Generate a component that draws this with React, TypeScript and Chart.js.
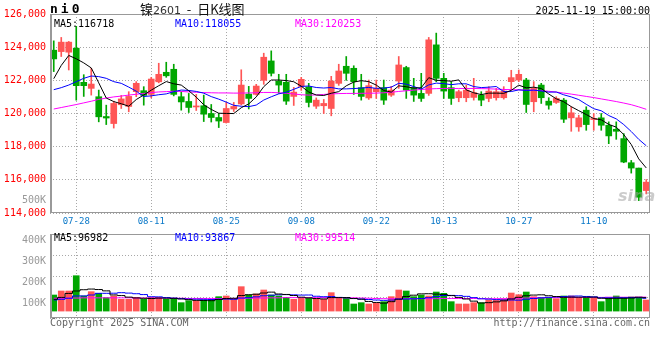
import { useEffect, useRef } from 'react';
import { Chart, registerables } from 'chart.js';
Chart.register(...registerables);

// ---------- data ----------
const dates = [
  '07-23','07-24','07-25','07-28','07-29','07-30','07-31',
  '08-01','08-04','08-05','08-06','08-07','08-08','08-11','08-12','08-13','08-14','08-15','08-18','08-19','08-20','08-21','08-22','08-25','08-26','08-27','08-28','08-29',
  '09-01','09-02','09-03','09-04','09-05','09-08','09-09','09-10','09-11','09-12','09-15','09-16','09-17','09-18','09-19','09-22','09-23','09-24','09-25','09-26','09-29','09-30',
  '10-09','10-10','10-13','10-14','10-15','10-16','10-17','10-20','10-21','10-22','10-23','10-24','10-27','10-28','10-29','10-30','10-31',
  '11-03','11-04','11-05','11-06','11-07','11-10','11-11','11-12','11-13','11-14','11-17','11-18','11-19'
];
const dateTicks = ['07-28','08-11','08-25','09-08','09-22','10-13','10-27','11-10'];

const opens = [123818,123733,123697,123939,121879,121515,121012,119818,119394,120527,
  120424,121315,121376,121152,121909,122485,122667,121012,120727,120394,
  120467,120000,119758,119455,120273,120576,121170,121152,121999,123170,
  121958,121879,121030,121636,121606,120442,120467,120303,121818,122848,
  122727,121558,120939,121315,121558,121109,121958,122770,121558,121212,
  121212,124139,122121,121558,120951,120951,120970,121109,120909,120951,
  120951,121921,122018,122018,120709,121715,120745,120667,120806,119739,
  119194,120200,119636,119739,119291,119049,118485,117031,116709,115352];
const highs = [124381,124587,124345,125254,122340,122727,121412,120503,120745,121091,
  121315,121921,121618,122182,123030,123091,122970,121315,121212,121152,
  121109,120545,120000,120667,120667,122636,121636,121758,123636,123776,
  122364,122364,121576,122182,121818,120939,120848,122242,122970,123436,
  122879,122364,122018,122018,122018,121636,123436,122848,122121,122424,
  124587,124848,122424,121921,121412,121715,122121,121315,121618,121515,
  121618,122606,122624,122121,121921,121818,120951,121012,120909,120406,
  119897,120406,120000,120000,119497,119497,118788,117170,116709,116018];
const lows = [122527,123436,122624,120806,121030,121109,119497,119333,119121,120303,
  120103,121012,120503,120939,121848,122182,121061,120200,120061,120182,
  119515,119485,119152,119424,120121,120515,120273,121109,121758,122261,
  121212,120545,120485,121394,120394,120303,120000,119861,121697,122000,
  121152,120806,120848,120909,120545,121030,121515,120909,120727,120727,
  121091,121921,120909,120545,120709,120709,120806,120467,120709,120806,
  120867,121412,121921,120061,120103,120606,120261,120606,119455,118927,
  118927,118988,118988,118988,118182,118443,117031,116406,114746,115152];
const closes = [123291,124303,124303,121679,121679,121776,119800,119727,120606,120879,
  121030,121818,121091,122079,122363,122273,121152,120697,120364,120455,
  119958,119758,119546,120303,120424,121715,120909,121655,123394,122424,
  121715,120745,121291,122061,120667,120806,120606,121958,122563,122424,
  121921,121030,121679,121515,120806,121412,122927,121412,121109,120909,
  124442,122121,121352,120909,121315,121412,121255,120806,121352,121315,
  121352,122164,122363,120545,121515,120951,120503,120909,119655,120042,
  119739,119333,119697,119291,118649,118927,117073,116709,114952,115861];

const ma5 = [122100,122900,123500,123300,123051,122748,121847,120932,120718,120588,
  120439,120842,121115,121410,121676,121925,121792,121713,121370,120988,
  120525,120246,120016,120004,119998,120349,120579,121001,121619,122019,
  122019,121987,121914,121647,121296,121114,121086,121220,121320,121671,
  121894,121979,121923,121714,121390,121288,121668,121614,121533,121554,
  122160,121999,121987,121947,122028,121422,121249,121139,121228,121228,
  121216,121398,121709,121548,121588,121508,121175,120885,120707,120412,
  120170,119936,119693,119620,119342,119179,118727,118130,117262,116718];
const ma10 = [121436,121558,121715,121921,122121,122260,122224,122121,121921,121819,
  121593,121345,121024,121064,121132,121182,121317,121414,121390,121332,
  121225,121019,120865,120687,120493,120437,120413,120509,120812,121009,
  121184,121283,121458,121633,121658,121567,121536,121567,121484,121484,
  121504,121533,121572,121517,121531,121591,121824,121769,121624,121472,
  121724,121833,121801,121740,121791,121791,121624,121563,121587,121628,
  121319,121323,121424,121388,121408,121362,121287,121297,121127,121000,
  120839,120556,120289,120164,119877,119675,119332,118912,118441,118055];
const ma30 = [120270,120360,120450,120540,120640,120740,120850,120930,121000,121050,
  121110,121160,121210,121260,121300,121320,121340,121330,121300,121280,
  121260,121250,121240,121240,121230,121230,121240,121250,121270,121270,
  121250,121220,121180,121130,121110,121120,121150,121180,121200,121210,
  121210,121220,121220,121230,121250,121280,121330,121370,121410,121450,
  121480,121500,121510,121510,121510,121510,121510,121500,121490,121470,
  121450,121440,121430,121415,121400,121380,121340,121290,121230,121170,
  121100,121030,120960,120880,120800,120720,120630,120530,120400,120253];

const volumes = [109500,128600,128600,201400,104800,125400,117500,96800,104800,88900,
  88900,98400,88900,98400,98400,88900,93700,73000,82500,82500,
  85700,88900,101600,104800,88900,149200,109500,114300,133300,109500,
  104800,98400,88900,93700,93700,88900,88900,120600,93700,93700,
  66700,73000,66700,70000,77800,101600,133300,128600,101600,109500,
  104800,123800,117500,77800,66700,66700,73000,73000,85700,85700,
  90500,119000,111000,123800,101600,96800,96800,92000,104800,104800,
  96800,96800,93700,77800,96800,104800,96800,100000,96800,85700];
const vma5 = [89000,98000,117000,128600,134600,137800,135500,129200,109900,106700,
  99400,95600,94000,92700,94600,94600,93700,90500,87300,84100,
  83500,82500,88200,92700,94000,106700,110800,113300,119000,123200,
  114300,112100,107000,99100,95900,92700,90800,97200,97200,97200,
  92700,89500,78800,74000,70800,77800,89900,102300,108600,114900,
  115600,113700,111400,106700,98100,90500,80300,71400,73000,76800,
  81600,90800,98400,106000,109200,110400,106000,102200,98400,99000,
  99000,99000,99400,94000,92400,94000,94000,95200,99000,96982];
const vma10 = [86000,89000,94000,105000,105000,109500,117500,117500,118000,120600,
  118600,115600,111600,101300,100600,97000,94600,92200,90000,89400,
  89000,88100,89400,90000,89100,95100,96700,100800,105900,108600,
  110500,111400,110200,109100,109500,103500,101400,102100,98100,96500,
  92700,90200,88000,85600,84000,85300,89700,90500,91300,92900,
  96700,101800,106900,107600,106500,103000,97000,91400,89900,87500,
  86000,85600,84900,89500,93000,96000,98400,100300,102200,104100,
  104700,102500,100800,96200,95700,96500,96500,97300,96500,93867];
const vma30 = [94000,94000,95000,95000,96000,96000,96000,96000,96000,96000,
  96000,95000,95000,95000,95000,95000,94000,94000,93000,93000,
  93000,93000,93000,93000,93000,94000,94000,95000,95000,96000,
  96000,97000,97000,97000,97000,97000,97000,97000,97000,96000,
  96000,95000,94000,93000,92000,92000,92000,92000,92000,92000,
  92000,92000,93000,93000,93000,93000,93000,92000,92000,92000,
  92000,93000,94000,95000,96000,96000,97000,97000,98000,98000,
  98000,98000,98000,98000,99000,99000,99000,99000,99500,99514];

// ---------- style ----------
const UP = '#ff5555';
const DOWN = '#00a600';
const MONO = '"DejaVu Sans Mono", "Liberation Mono", monospace';
const GRID = '#a8a8a8';
const candleColors = closes.map((c, i) => (c >= opens[i] ? UP : DOWN));

const framePlugin = {
  id: 'frame',
  afterDraw(chart: any) {
    const { ctx, chartArea } = chart;
    const { left, top, right, bottom } = chartArea;
    ctx.save();
    ctx.strokeStyle = '#999';
    ctx.lineWidth = 1;
    ctx.strokeRect(left + 0.5, top + 0.5, right - left - 1, bottom - top - 1);
    ctx.lineWidth = 2;
    ctx.beginPath();
    ctx.moveTo(left + 1, top);
    ctx.lineTo(left + 1, bottom);
    ctx.stroke();
    ctx.restore();
  },
};

const filterDateTicks = (scale: any) => {
  scale.ticks = scale.ticks.filter((t: any) => dateTicks.includes(dates[t.value]));
};

const lineDs = (data: number[], color: string, stepped: any = false) => ({
  type: 'line' as const,
  data,
  borderColor: color,
  borderWidth: 1,
  pointRadius: 0,
  fill: false,
  tension: 0,
  stepped,
  order: 0,
});

export default function App() {
  const priceRef = useRef<HTMLCanvasElement>(null);
  const volRef = useRef<HTMLCanvasElement>(null);

  useEffect(() => {
    const priceChart = new Chart(priceRef.current!, {
      type: 'bar',
      data: {
        labels: dates,
        datasets: [
          lineDs(ma5, '#000000'),
          lineDs(ma10, '#0000ff'),
          lineDs(ma30, '#ff00ff'),
          {
            type: 'bar',
            data: opens.map((o, i) => [o, closes[i]]),
            backgroundColor: candleColors,
            barThickness: 6,
            minBarLength: 1,
            grouped: false,
            order: 1,
          } as any,
          {
            type: 'bar',
            data: lows.map((l, i) => [l, highs[i]]),
            backgroundColor: candleColors,
            barThickness: 1,
            grouped: false,
            order: 2,
          } as any,
        ],
      },
      options: {
        animation: false,
        responsive: false,
        devicePixelRatio: 1,
        layout: { padding: { top: 14, right: 10, left: 0, bottom: 0 } },
        plugins: { legend: { display: false }, tooltip: { enabled: false } },
        scales: {
          x: {
            type: 'category',
            offset: true,
            grid: { offset: false, color: GRID, drawTicks: false, lineWidth: 1 },
            border: { display: false, dash: [1, 2] },
            ticks: {
              autoSkip: false,
              maxRotation: 0,
              color: '#0a78c8',
              font: { family: MONO, size: 9 },
              padding: 3,
            },
            afterBuildTicks: filterDateTicks,
            afterFit: (s: any) => { s.height = 17; s.paddingLeft = 0; s.paddingRight = 0; },
          },
          y: {
            min: 114000,
            max: 126000,
            ticks: {
              stepSize: 2000,
              color: '#ff0000',
              font: { family: MONO, size: 10 },
              padding: 4,
            },
            grid: { color: GRID, drawTicks: false },
            border: { display: false, dash: [1, 2] },
            afterFit: (s: any) => { s.width = 50; s.paddingTop = 0; s.paddingBottom = 0; },
          },
        },
      } as any,
      plugins: [framePlugin],
    });

    const volChart = new Chart(volRef.current!, {
      type: 'bar',
      data: {
        labels: dates,
        datasets: [
          lineDs(vma5, '#000000', 'middle'),
          lineDs(vma10, '#0000ff', 'middle'),
          lineDs(vma30, '#ff00ff', 'middle'),
          {
            type: 'bar',
            data: volumes,
            backgroundColor: candleColors,
            barThickness: 6,
            base: 33000,
            grouped: false,
            order: 1,
          } as any,
        ],
      },
      options: {
        animation: false,
        responsive: false,
        devicePixelRatio: 1,
        layout: { padding: { top: 4, right: 10, left: 0, bottom: 0 } },
        plugins: { legend: { display: false }, tooltip: { enabled: false } },
        scales: {
          x: {
            type: 'category',
            offset: true,
            grid: { offset: false, color: GRID, drawTicks: false },
            border: { display: false, dash: [1, 2] },
            ticks: { display: false, autoSkip: false },
            afterBuildTicks: filterDateTicks,
            afterFit: (s: any) => { s.height = 42; s.paddingLeft = 0; s.paddingRight = 0; },
          },
          y: {
            min: 0,
            max: 400000,
            ticks: {
              stepSize: 100000,
              color: '#999999',
              font: { family: MONO, size: 10 },
              padding: 4,
              labelOffset: 6,
              callback: (v: any) => (v === 0 ? '' : v / 1000 + 'K'),
            },
            grid: { color: GRID, drawTicks: false },
            border: { display: false, dash: [1, 2] },
            afterFit: (s: any) => { s.width = 50; s.paddingTop = 0; s.paddingBottom = 0; },
          },
        },
      } as any,
      plugins: [framePlugin],
    });

    return () => {
      priceChart.destroy();
      volChart.destroy();
    };
  }, []);

  const abs = (extra: any) => ({ position: 'absolute' as const, whiteSpace: 'pre' as const, ...extra });

  return (
    <div style={{ position: 'fixed', left: 0, top: 0, width: 660, height: 360, background: '#fff', overflow: 'hidden' }}>
      <canvas ref={priceRef} width={660} height={230} style={{ position: 'absolute', left: 0, top: 0 }} />
      <canvas ref={volRef} width={660} height={130} style={{ position: 'absolute', left: 0, top: 230 }} />

      <div style={abs({ left: 50, top: 1, font: `bold 13px ${MONO}`, letterSpacing: '3px', lineHeight: '16px', color: '#000' })}>ni0</div>
      <div style={abs({ left: 140, top: 0, fontSize: 13, lineHeight: '18px', fontFamily: '"Noto Sans CJK SC", sans-serif', color: '#111' })}>
        镍<span style={{ fontFamily: '"DejaVu Sans", sans-serif', fontSize: 11, color: '#333' }}>2601</span>{'  -  '}日K线图
      </div>
      <div style={abs({ right: 10, top: 5, font: `10px ${MONO}`, lineHeight: '12px', color: '#000' })}>2025-11-19 15:00:00</div>

      <div style={abs({ left: 54, top: 18, font: `10px ${MONO}`, lineHeight: '12px', color: '#000' })}>MA5:116718</div>
      <div style={abs({ left: 175, top: 18, font: `10px ${MONO}`, lineHeight: '12px', color: '#0000ff' })}>MA10:118055</div>
      <div style={abs({ left: 295, top: 18, font: `10px ${MONO}`, lineHeight: '12px', color: '#ff00ff' })}>MA30:120253</div>

      <div style={abs({ left: 618, top: 186, font: `italic bold 16px "DejaVu Sans", sans-serif`, color: 'rgba(160,160,160,0.55)' })}>sina</div>
      <div style={abs({ left: 0, width: 46, textAlign: 'right', top: 194, font: `10px ${MONO}`, lineHeight: '12px', color: '#999' })}>500K</div>

      <div style={abs({ left: 54, top: 232, font: `10px ${MONO}`, lineHeight: '12px', color: '#000' })}>MA5:96982</div>
      <div style={abs({ left: 175, top: 232, font: `10px ${MONO}`, lineHeight: '12px', color: '#0000ff' })}>MA10:93867</div>
      <div style={abs({ left: 295, top: 232, font: `10px ${MONO}`, lineHeight: '12px', color: '#ff00ff' })}>MA30:99514</div>

      <div style={abs({ left: 50, top: 317, font: `10px ${MONO}`, lineHeight: '12px', color: '#666' })}>Copyright 2025 SINA.COM</div>
      <div style={abs({ right: 10, top: 317, font: `10px ${MONO}`, lineHeight: '12px', color: '#666' })}>http://finance.sina.com.cn</div>
    </div>
  );
}
